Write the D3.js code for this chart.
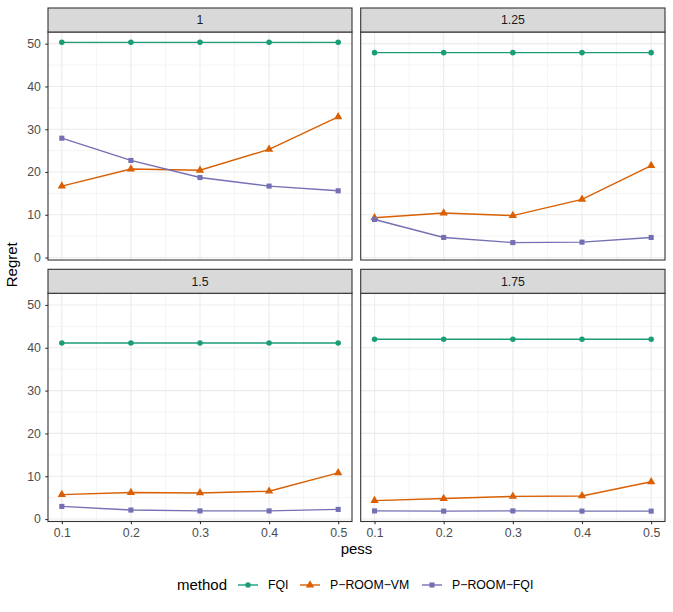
<!DOCTYPE html>
<html>
<head>
<meta charset="utf-8">
<script src="https://cdn.jsdelivr.net/npm/d3@7"></script>
<style>
  body { margin: 0; background: #fff; }
  text { font-family: "Liberation Sans", Arial, sans-serif; }
</style>
</head>
<body>
<svg id="chart" width="673" height="612"></svg>
<script>
// data
var pess = [0.1, 0.2, 0.3, 0.4, 0.5];
var facets = ["1", "1.25", "1.5", "1.75"];
var methods = ["FQI", "P\u2212ROOM\u2212VM", "P\u2212ROOM\u2212FQI"];
var colors = ["#1B9E77", "#D95F02", "#7570B3"];
var shapes = ["circle", "triangle", "square"];

var fqi      = [[50.3, 50.3, 50.3, 50.3, 50.3], [47.9, 47.9, 47.9, 47.9, 47.9], [41.1, 41.1, 41.1, 41.1, 41.1], [42.0, 42.0, 42.0, 42.0, 42.0]];
var roomVM   = [[16.7, 20.7, 20.4, 25.3, 32.9], [9.3, 10.4, 9.8, 13.6, 21.5], [5.7, 6.2, 6.1, 6.5, 10.8], [4.3, 4.8, 5.3, 5.4, 8.7]];
var roomFQI  = [[27.9, 22.7, 18.7, 16.7, 15.6], [8.9, 4.7, 3.5, 3.6, 4.7], [2.95, 2.1, 1.9, 1.9, 2.25], [1.9, 1.85, 1.9, 1.85, 1.85]];
var series = [fqi, roomVM, roomFQI];

var yTicks = [0, 10, 20, 30, 40, 50];
var yMinor = [5, 15, 25, 35, 45];
var xMinor = [0.15, 0.25, 0.35, 0.45];

var svg = d3.select("#chart");
var FS = 12.3, TS = 15;

// panels
var cols = [[48, 352], [360.7, 665]];
var rows = [{strip: 8, top: 32, bottom: 260}, {strip: 269.3, top: 293.3, bottom: 521.5}];

// shared y domain with 5% expansion like ggplot
var all = [];
series.forEach(function(s){ s.forEach(function(a){ all = all.concat(a); }); });
var lo = d3.min(all), hi = d3.max(all);
var pad = (hi - lo) * 0.05;
var yDomain = [lo - pad, hi + pad];
var xDomain = [0.1 - 0.02, 0.5 + 0.02];

function symFor(s){
    return s == "circle" ? d3.symbolCircle : (s == "triangle" ? d3.symbolTriangle : d3.symbolSquare);
}
function sizeFor(s){
    return s == "circle" ? 24 : (s == "triangle" ? 30 : 26);
}

facets.forEach(function(f, fi){
    var c = cols[fi % 2], r = rows[Math.floor(fi / 2)];
    var x = d3.scaleLinear().domain(xDomain).range(c);
    var y = d3.scaleLinear().domain(yDomain).range([r.bottom, r.top]);
    var g = svg.append("g");

    g.append("rect").attr("x", c[0]).attr("y", r.top).attr("width", c[1] - c[0]).attr("height", r.bottom - r.top).attr("fill", "#fff");

    // grid
    g.selectAll(".ymin").data(yMinor).enter().append("line")
        .attr("x1", c[0]).attr("x2", c[1]).attr("y1", function(d){ return y(d); }).attr("y2", function(d){ return y(d); })
        .attr("stroke", "#EBEBEB").attr("stroke-width", 0.55);
    g.selectAll(".xmin").data(xMinor).enter().append("line")
        .attr("y1", r.top).attr("y2", r.bottom).attr("x1", function(d){ return x(d); }).attr("x2", function(d){ return x(d); })
        .attr("stroke", "#EBEBEB").attr("stroke-width", 0.55);
    g.selectAll(".ymaj").data(yTicks).enter().append("line")
        .attr("x1", c[0]).attr("x2", c[1]).attr("y1", function(d){ return y(d); }).attr("y2", function(d){ return y(d); })
        .attr("stroke", "#EBEBEB").attr("stroke-width", 1.1);
    g.selectAll(".xmaj").data(pess).enter().append("line")
        .attr("y1", r.top).attr("y2", r.bottom).attr("x1", function(d){ return x(d); }).attr("x2", function(d){ return x(d); })
        .attr("stroke", "#EBEBEB").attr("stroke-width", 1.1);

    // lines and points
    series.forEach(function(s, si){
        var vals = s[fi];
        var line = d3.line().x(function(d, i){ return x(pess[i]); }).y(function(d){ return y(d); });
        g.append("path").datum(vals).attr("d", line).attr("fill", "none")
            .attr("stroke", colors[si]).attr("stroke-width", 1.4);
        g.selectAll(".pt" + si).data(vals).enter().append("path")
            .attr("d", d3.symbol().type(symFor(shapes[si])).size(sizeFor(shapes[si])))
            .attr("transform", function(d, i){ return "translate(" + x(pess[i]) + "," + y(d) + ")"; })
            .attr("fill", colors[si]);
    });

    // border
    g.append("rect").attr("x", c[0]).attr("y", r.top).attr("width", c[1] - c[0]).attr("height", r.bottom - r.top)
        .attr("fill", "none").attr("stroke", "#333333").attr("stroke-width", 1.1);

    // strip
    g.append("rect").attr("x", c[0]).attr("y", r.strip).attr("width", c[1] - c[0]).attr("height", r.top - r.strip)
        .attr("fill", "#D9D9D9").attr("stroke", "#333333").attr("stroke-width", 1.1);
    g.append("text").attr("x", (c[0] + c[1]) / 2).attr("y", (r.strip + r.top) / 2 + 4.3)
        .attr("text-anchor", "middle").attr("font-size", FS).attr("fill", "#1A1A1A").text(f);

    // y axis on left column
    if (fi % 2 == 0) {
        var ya = g.append("g").attr("transform", "translate(" + c[0] + ",0)")
            .call(d3.axisLeft(y).tickValues(yTicks).tickSize(2.7).tickPadding(4.5));
        ya.select(".domain").remove();
        ya.selectAll("line").attr("stroke", "#333333").attr("stroke-width", 1.1);
        ya.selectAll("text").attr("font-size", FS).attr("fill", "#4D4D4D").attr("font-family", "Liberation Sans, Arial, sans-serif");
    }
    // x axis on bottom row
    if (fi >= 2) {
        var xa = g.append("g").attr("transform", "translate(0," + r.bottom + ")")
            .call(d3.axisBottom(x).tickValues(pess).tickFormat(d3.format(".1f")).tickSize(2.7).tickPadding(4.5));
        xa.select(".domain").remove();
        xa.selectAll("line").attr("stroke", "#333333").attr("stroke-width", 1.1);
        xa.selectAll("text").attr("font-size", FS).attr("fill", "#4D4D4D").attr("font-family", "Liberation Sans, Arial, sans-serif");
    }
});

// axis titles
svg.append("text").attr("x", (cols[0][0] + cols[1][1]) / 2).attr("y", 554)
    .attr("text-anchor", "middle").attr("font-size", TS).attr("fill", "#000").text("pess");
svg.append("text").attr("transform", "translate(17," + ((rows[0].strip + rows[1].bottom) / 2) + ") rotate(-90)")
    .attr("text-anchor", "middle").attr("font-size", TS).attr("fill", "#000").text("Regret");

// legend
var legY = 585;
svg.append("text").attr("x", 177).attr("y", legY + 5).attr("font-size", TS).attr("fill", "#000").text("method");
var keyX = [238, 300, 422];
methods.forEach(function(m, mi){
    var lg = svg.append("g").attr("transform", "translate(" + keyX[mi] + "," + legY + ")");
    lg.append("line").attr("x1", 0).attr("x2", 20).attr("stroke", colors[mi]).attr("stroke-width", 1.4);
    lg.append("path").attr("d", d3.symbol().type(symFor(shapes[mi])).size(sizeFor(shapes[mi])))
        .attr("transform", "translate(10,0)").attr("fill", colors[mi]);
    lg.append("text").attr("x", 30).attr("y", 4.3).attr("font-size", FS).attr("fill", "#000").text(m);
});
</script>
</body>
</html>
